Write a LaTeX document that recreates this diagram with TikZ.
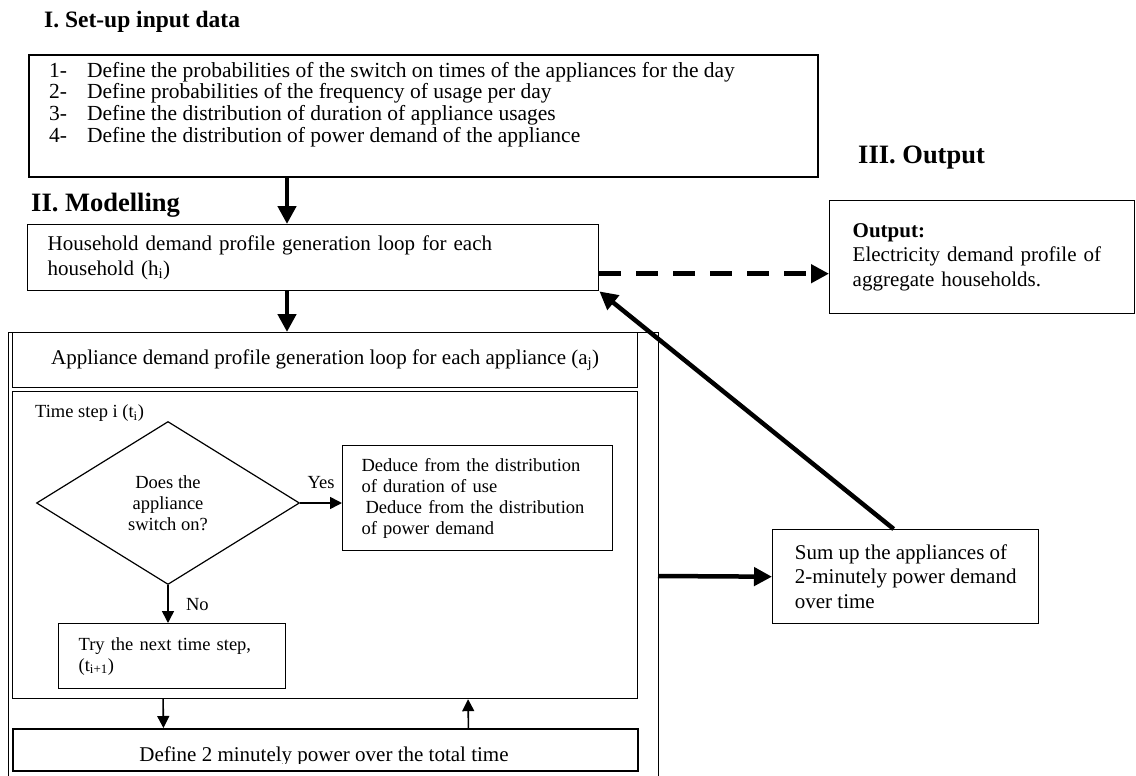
\documentclass[tikz,border=0pt]{standalone}
\usepackage{fontspec}
\setmainfont{Liberation Serif}
\usetikzlibrary{positioning,arrows.meta,calc,shapes.geometric}

\begin{document}
\begin{tikzpicture}[
  x=1pt, y=-1pt,
  box/.style={draw, line width=1.4pt, anchor=north west, inner sep=0pt},
  body/.style={font=\fontsize{21}{24.5}\selectfont},
  small/.style={font=\fontsize{18.5}{21}\selectfont},
  title/.style={anchor=west, inner sep=0pt, font=\fontsize{26.5}{30}\selectfont\bfseries},
  flow/.style={line width=4.5pt, -{Triangle[length=18pt,width=18pt]}},
  thinflow/.style={line width=1.6pt, -{Triangle[length=12pt,width=12pt]}}
]
\useasboundingbox (0,0) rectangle (1136,776);

\node[title, font=\fontsize{23.5}{28}\selectfont\bfseries] (tinput) at (44,22) {I. Set-up input data};
\node[title] (tmodel) at (31,205) {II. Modelling};
\node[title] (toutput) at (858,158) {III. Output};

\node[box, line width=2.2pt, minimum width=789pt, minimum height=122pt] (input) at (28,54) {};
\node[anchor=north west, inner sep=0pt, font=\fontsize{21.5}{21}\selectfont] (steps) at ([xshift=21pt,yshift=-8pt]input.north west) {%
  \begin{tabular}{@{}l@{\hspace{20pt}}l@{}}
  1- & Define the probabilities of the switch on times of the appliances for the day\\
  2- & Define probabilities of the frequency of usage per day\\
  3- & Define the distribution of duration of appliance usages\\[1pt]
  4- & Define the distribution of power demand of the appliance
  \end{tabular}};

\node[box, minimum width=571pt, minimum height=66pt, text width=531pt, align=left, body] (house) at (27,224) {Household demand profile generation loop for each\\household (h\textsubscript{i})};
\node[box, minimum width=305pt, minimum height=113pt, text width=259pt, align=left, body] (out) at (829,200) {\textbf{Output:}\\Electricity demand profile of\\aggregate households.};

\draw[line width=1pt] (8,776) |- (658,332) -- (658,776);
\coordinate (spine) at (287,0);
\coordinate (frameout) at (658,576);

\node[box, minimum width=625pt, minimum height=55pt, body] (appl) at (12,332) {Appliance demand profile generation loop for each appliance (a\textsubscript{j})};
\node[box, line width=1.2pt, minimum width=625pt, minimum height=307pt] (tstep) at (12,391) {};
\node[anchor=west, inner sep=0pt, small] (tlabel) at (35,413) {Time step i (t\textsubscript{i})};
\node[draw, diamond, line width=1.2pt, minimum width=263pt, minimum height=163pt, inner sep=0pt, align=center, small] (ask) at (168,503) {Does the\\appliance\\switch on?};
\node[box, line width=1.2pt, minimum width=270pt, minimum height=105pt, text width=232pt, align=left, small] (deduce) at (342,445) {Deduce from the distribution\\of duration of use\\\hspace*{4pt}Deduce from the distribution\\of power demand};
\node[box, line width=1.2pt, minimum width=227pt, minimum height=65pt, text width=187pt, align=left, small] (try) at (58,623) {Try the next time step,\\(t\textsubscript{i+1})};
\node[box, line width=1.8pt, minimum width=625pt, minimum height=42pt] (define) at (12,728) {};
\begin{scope}
\clip (define.north west) rectangle ([yshift=8pt]define.south east);
\node[anchor=base, inner sep=0pt, body] (definetext) at (324,761) {Define 2 minutely power over the total time};
\end{scope}

\node[box, minimum width=266pt, minimum height=94pt, align=left, body] (sum) at (772,529) {Sum up the appliances of\\2-minutely power demand\\over time};

\draw[flow] (input.south -| spine) -- (house.north -| spine);
\draw[flow] (house.south -| spine) -- (appl.north -| spine);
\coordinate (dashstart) at ([yshift=-16pt]house.east);
\draw[flow, dash pattern=on 22pt off 15pt] (dashstart) -- (dashstart -| out.west);
\draw[flow] ([xshift=-12pt]sum.north) -- (house.south east);
\draw[flow] (frameout) -- (sum.west);

\draw[thinflow] (ask.east) -- (ask.east -| deduce.west) node[midway, above=10pt, small] (yes) {Yes};
\draw[thinflow] (ask.south) -- (ask.south |- try.north) node[midway, right=14pt, small] (no) {No};
\draw[thinflow] ([xshift=-162pt]tstep.south) -- ([xshift=-162pt]define.north);
\draw[thinflow] ([xshift=143pt]define.north) -- ([xshift=143pt]tstep.south);
\end{tikzpicture}
\end{document}
